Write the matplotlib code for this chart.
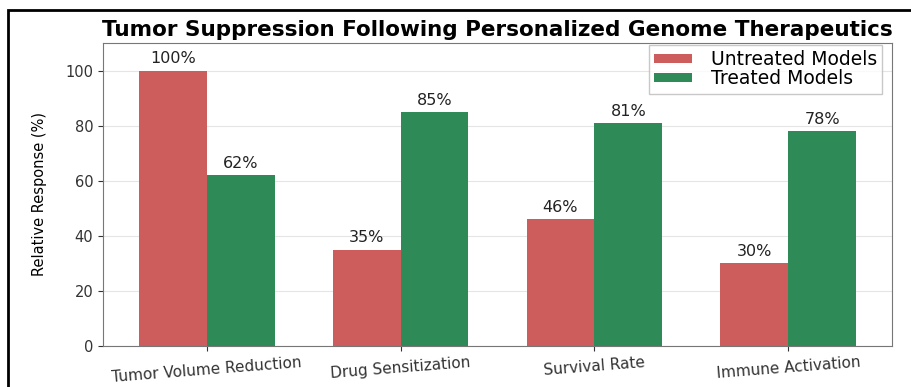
import numpy as np
import matplotlib
matplotlib.use("Agg")
import matplotlib.pyplot as plt
from matplotlib import font_manager
from matplotlib.patches import Rectangle

categories = ["Tumor Volume Reduction", "Drug Sensitization", "Survival Rate", "Immune Activation"]
untreated = [100, 35, 46, 30]
treated = [62, 85, 81, 78]
series_names = ["Untreated Models", "Treated Models"]

RED = "#cd5c5c"
GREEN = "#2e8b57"

# narrow face for the y label if one is installed
installed = {f.name for f in font_manager.fontManager.ttflist}
narrow = "DejaVu Sans"
for cand in ["Liberation Sans Narrow", "DejaVu Sans Condensed"]:
    if cand in installed:
        narrow = cand
        break

fig = plt.figure(figsize=(9.12, 3.87), dpi=100)
ax = fig.add_axes([0.113, 0.106, 0.865, 0.783])

x = np.arange(len(categories))
w = 0.35
b1 = ax.bar(x - w / 2, untreated, w, color=RED, label=series_names[0])
b2 = ax.bar(x + w / 2, treated, w, color=GREEN, label=series_names[1])

for bars in (b1, b2):
    ax.bar_label(bars, labels=[f"{v:.0f}%" for v in bars.datavalues],
                 padding=3, fontsize=11.5, color="#222222")

ax.set_ylim(0, 110)
ax.set_yticks([0, 20, 40, 60, 80, 100])
ax.set_xticks(x)
ax.set_xticklabels(categories, rotation=4.5, fontsize=11)
ax.tick_params(axis="y", labelsize=10.5, colors="#333333")
ax.tick_params(axis="x", colors="#333333", pad=3)
for s in ax.spines.values():
    s.set_color("#777777")
ax.grid(axis="y", color="#cccccc", alpha=0.5, linewidth=0.8)
ax.set_axisbelow(True)

ax.set_ylabel("Relative Response (%)", fontsize=11.5 if narrow != "DejaVu Sans" else 10.5,
              family=narrow, labelpad=13)
ax.set_title("Tumor Suppression Following Personalized Genome Therapeutics",
             fontsize=15.5, fontweight="bold", pad=5)

ax.legend(loc="upper right", bbox_to_anchor=(0.988, 0.994), borderaxespad=0,
          fontsize=13.5, handlelength=2.0, handleheight=0.33, handletextpad=1.0,
          labelspacing=0.0, borderpad=0.3, edgecolor="#bbbbbb", fancybox=False)

# black frame around the figure (top and left edges visible in the crop)
fig.add_artist(Rectangle((8 / 912, -0.05), 1.1, (377 / 387) + 0.05,
                         transform=fig.transFigure, fill=False,
                         edgecolor="black", linewidth=2))

fig.savefig("out.png", dpi=100)
